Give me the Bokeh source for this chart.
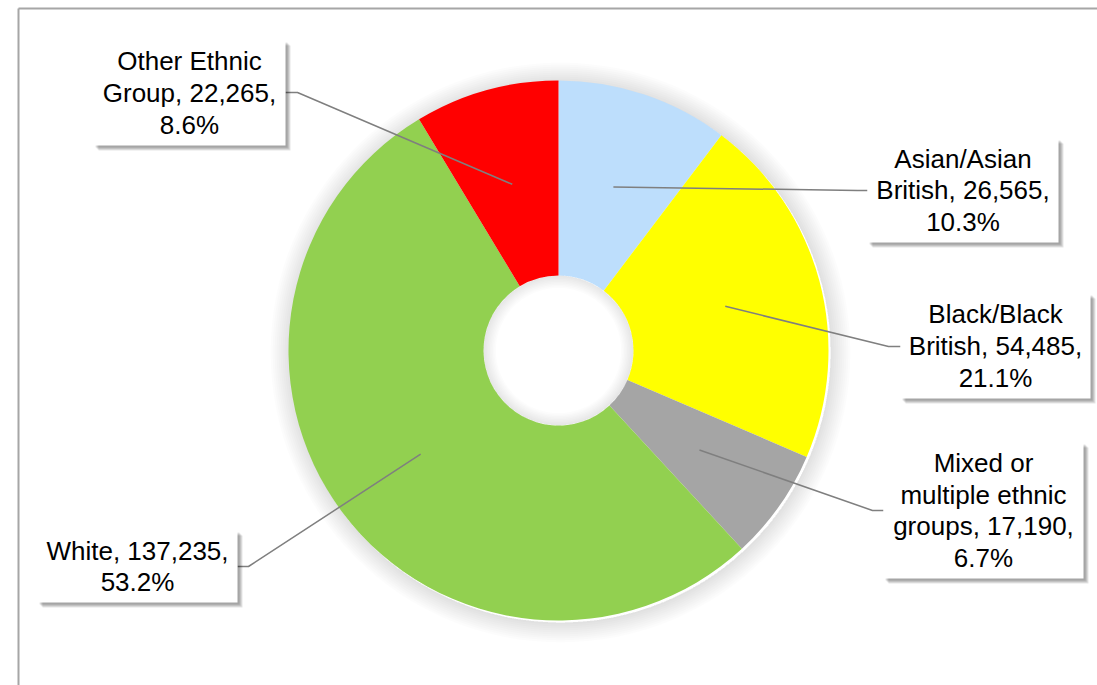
import math
from bokeh.plotting import figure
from bokeh.models import Range1d, ColumnDataSource
from bokeh.core.properties import value
from bokeh.embed import file_html
from bokeh.resources import INLINE

# ---- data ----
categories = ["Asian/Asian British", "Black/Black British", "Mixed or multiple ethnic groups",
              "White", "Other Ethnic Group"]
counts = [26565, 54485, 17190, 137235, 22265]
colors = ["#BDDEFC", "#FFFF00", "#A5A5A5", "#92D050", "#FF0000"]
label_lines = [
    ["Asian/Asian", "British, {n},", "{p}"],
    ["Black/Black", "British, {n},", "{p}"],
    ["Mixed or", "multiple ethnic", "groups, {n},", "{p}"],
    ["White, {n},", "{p}"],
    ["Other Ethnic", "Group, {n},", "{p}"],
]

# ---- layout (pixel coordinates, y downward) ----
W, H = 1097, 685
CX, CY = 558, 350
R_OUT, R_IN = 270, 75
boxes = [  # left, right, top, bottom
    (867, 1058, 138, 242),
    (900, 1090, 293, 398),
    (883, 1083, 442, 578),
    (37, 237, 530, 602),
    (93, 285, 40, 145),
]
elbows = [  # elbow x, y, box-edge x
    (857, 190, 867),
    (888, 346, 900),
    (872, 510, 883),
    (248, 566, 237),
    (297, 92, 285),
]

def Y(py):
    return H - py

p = figure(width=W, height=H, x_range=Range1d(0, W), y_range=Range1d(0, H),
           output_backend="svg", toolbar_location=None, min_border=0)
p.axis.visible = False
p.grid.visible = False
p.outline_line_color = None
p.background_fill_color = "white"

# frame
p.multi_line(xs=[[18, W + 5], [18, 18]], ys=[[Y(8), Y(8)], [Y(8), Y(H + 5)]],
             line_color="#A6A6A6", line_width=2)

# soft outer shadow around donut
for i in range(10):
    p.annular_wedge(x=CX + 2, y=Y(CY + 2), inner_radius=R_OUT, outer_radius=R_OUT + 2 + i * 2,
                    start_angle=0, end_angle=2 * math.pi, fill_color="black",
                    fill_alpha=0.012, line_color=None)

total = sum(counts)
starts, ends, mids = [], [], []
cum = 0
for c in counts:
    a0 = math.pi / 2 - 2 * math.pi * cum / total
    cum += c
    a1 = math.pi / 2 - 2 * math.pi * cum / total
    starts.append(a0)
    ends.append(a1)
    mids.append((a0 + a1) / 2)

src = ColumnDataSource(dict(start=starts, end=ends, color=colors))
p.annular_wedge(x=CX, y=Y(CY), inner_radius=R_IN, outer_radius=R_OUT,
                start_angle="start", end_angle="end", direction="clock",
                fill_color="color", line_color=None, source=src)

# inner shadow in the hole
for i in range(8):
    p.annular_wedge(x=CX, y=Y(CY), inner_radius=R_IN - 2 - i * 1.5, outer_radius=R_IN,
                    start_angle=0, end_angle=2 * math.pi, fill_color="black",
                    fill_alpha=0.012, line_color=None)

# leader lines
rm = (R_IN + R_OUT) / 2
lx, ly = [], []
for m, (ex, ey, bx) in zip(mids, elbows):
    ax = CX + rm * math.cos(m)
    ay = Y(CY) + rm * math.sin(m)
    lx.append([ax, ex, bx])
    ly.append([ay, Y(ey), Y(ey)])
p.multi_line(xs=lx, ys=ly, line_color="#7F7F7F", line_width=1.5)

# label boxes with shadows
for k in range(4):
    off = 2 + k
    p.quad(left=[b[0] + off for b in boxes], right=[b[1] + off for b in boxes],
           top=[Y(b[2] + off) for b in boxes], bottom=[Y(b[3] + off) for b in boxes],
           fill_color="black", fill_alpha=0.1, line_color=None)
p.quad(left=[b[0] for b in boxes], right=[b[1] for b in boxes],
       top=[Y(b[2]) for b in boxes], bottom=[Y(b[3]) for b in boxes],
       fill_color="white", line_color=None)

texts = []
for lines, c in zip(label_lines, counts):
    pct = f"{100 * c / total:.1f}%"
    texts.append("\n".join(l.format(n=f"{c:,}", p=pct) for l in lines))
tx = [(b[0] + b[1]) / 2 for b in boxes]
ty = [Y((b[2] + b[3]) / 2) for b in boxes]
p.text(x=tx, y=ty, text=texts, text_align="center", text_baseline="middle",
       text_font=value("Liberation Sans"), text_font_size="26px",
       text_line_height=1.06, text_color="black")

open("out.html", "w").write(file_html(p, INLINE))
